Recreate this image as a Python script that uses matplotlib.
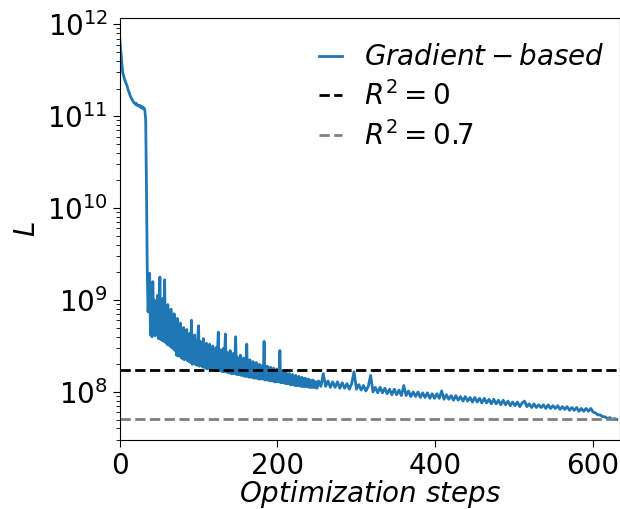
import numpy as np
import matplotlib
matplotlib.use("Agg")
import matplotlib.pyplot as plt

# log10 of the loss
# first segment: one value per step (0..36)
log_loss_start = [
    11.86, 11.75, 11.66, 11.55, 11.47, 11.44, 11.41, 11.38, 11.36, 11.34,
    11.31, 11.28, 11.26, 11.23, 11.21, 11.19, 11.18, 11.16, 11.15, 11.14,
    11.13, 11.14, 11.12, 11.12, 11.11, 11.12, 11.10, 11.11, 11.09, 11.10,
    11.08, 11.09, 11.06, 10.95, 10.20, 9.30, 8.87,
]

# noisy segment: one value per step from 38 to 250
log_loss_noisy = [
    9.29, 8.62, 8.95, 8.60, 9.20, 8.66, 9.00, 8.61, 8.90, 8.63,
    9.05, 8.58, 8.88, 9.25, 8.57, 8.92, 8.56, 9.02, 8.55, 9.22,
    8.54, 8.85, 8.52, 8.95, 8.51, 8.80, 8.50, 8.90, 8.48, 8.75,
    8.47, 8.85, 8.45, 8.72, 8.40, 8.80, 8.39, 8.68, 8.40, 8.75,
    8.37, 8.65, 8.36, 8.70, 8.35, 8.62, 8.36, 8.68, 8.34, 8.60,
    8.33, 8.64, 8.32, 8.78, 8.30, 8.58, 8.31, 8.62, 8.30, 8.55,
    8.29, 8.60, 8.72, 8.28, 8.55, 8.29, 8.52, 8.27, 8.58, 8.27,
    8.50, 8.26, 8.53, 8.25, 8.48, 8.26, 8.52, 8.25, 8.46, 8.24,
    8.50, 8.24, 8.45, 8.23, 8.48, 8.24, 8.44, 8.65, 8.23, 8.46,
    8.23, 8.42, 8.22, 8.47, 8.22, 8.40, 8.63, 8.22, 8.43, 8.21,
    8.42, 8.21, 8.45, 8.20, 8.38, 8.20, 8.42, 8.20, 8.36, 8.60,
    8.19, 8.38, 8.19, 8.35, 8.19, 8.40, 8.18, 8.34, 8.18, 8.37,
    8.17, 8.33, 8.17, 8.52, 8.17, 8.32, 8.16, 8.35, 8.16, 8.30,
    8.16, 8.33, 8.15, 8.29, 8.15, 8.32, 8.15, 8.28, 8.14, 8.30,
    8.14, 8.27, 8.14, 8.29, 8.14, 8.55, 8.13, 8.26, 8.13, 8.28,
    8.13, 8.25, 8.12, 8.27, 8.12, 8.24, 8.12, 8.26, 8.11, 8.23,
    8.11, 8.25, 8.11, 8.22, 8.11, 8.45, 8.10, 8.21, 8.10, 8.23,
    8.10, 8.20, 8.09, 8.21, 8.09, 8.19, 8.09, 8.20, 8.08, 8.18,
    8.08, 8.19, 8.08, 8.17, 8.07, 8.18, 8.07, 8.16, 8.07, 8.17,
    8.07, 8.15, 8.06, 8.16, 8.06, 8.14, 8.06, 8.15, 8.06, 8.13,
    8.06, 8.14, 8.05, 8.13, 8.05, 8.12, 8.05, 8.13, 8.05, 8.11,
    8.05, 8.11, 8.04,
]

# slow tail: every 3 steps from 252
log_loss_tail = [
    8.12, 8.06, 8.20, 8.06, 8.12, 8.05, 8.11, 8.05, 8.11, 8.04,
    8.10, 8.04, 8.09, 8.03, 8.09, 8.22, 8.03, 8.08, 8.02, 8.07,
    8.01, 8.06, 8.18, 8.00, 8.05, 7.99, 8.05, 7.99, 8.04, 7.98,
    8.03, 7.97, 8.03, 7.97, 8.02, 7.96, 8.07, 7.96, 8.01, 7.95,
    8.00, 7.95, 8.00, 7.94, 7.99, 7.94, 7.99, 7.93, 7.98, 7.93,
    7.98, 7.93, 8.01, 7.92, 7.97, 7.92, 7.96, 7.91, 7.96, 7.91,
    7.95, 7.90, 7.95, 7.90, 7.94, 7.89, 7.94, 7.89, 7.93, 7.88,
    7.93, 7.88, 7.92, 7.87, 7.92, 7.87, 7.91, 7.86, 7.91, 7.86,
    7.90, 7.85, 7.89, 7.85, 7.89, 7.84, 7.88, 7.90, 7.84, 7.87,
    7.83, 7.87, 7.83, 7.86, 7.83, 7.86, 7.82, 7.86, 7.82, 7.85,
    7.82, 7.85, 7.81, 7.84, 7.81, 7.84, 7.80, 7.83, 7.80, 7.83,
    7.79, 7.82, 7.79, 7.82, 7.79, 7.82, 7.78, 7.77, 7.75, 7.75,
    7.73, 7.73, 7.71, 7.72, 7.70, 7.71, 7.70,
]

r2_zero = 1.72e8
r2_07 = 5.1e7

steps = np.concatenate([
    np.arange(0, len(log_loss_start)),
    38 + np.arange(len(log_loss_noisy)),
    252 + 3 * np.arange(len(log_loss_tail)),
])
loss = 10 ** np.array(log_loss_start + log_loss_noisy + log_loss_tail)

plt.rcParams["mathtext.fontset"] = "dejavusans"

fig = plt.figure(figsize=(6.2, 5.09), dpi=100)
ax = fig.add_axes([0.193, 0.1356, 0.807, 0.829])

ax.plot(steps, loss, color="#1f77b4", linewidth=2, label=r"$Gradient-based$")
ax.axhline(r2_zero, color="black", linestyle="--", linewidth=2, label=r"$R^2=0$")
ax.axhline(r2_07, color="gray", linestyle="--", linewidth=2, label=r"$R^2=0.7$")

ax.set_yscale("log")
ax.set_xlim(0, 634)
ax.set_ylim(3e7, 1.17e12)
ax.set_xticks([0, 200, 400, 600])

ax.tick_params(axis="both", which="major", labelsize=20, length=5)
ax.tick_params(axis="both", which="minor", length=3)

ax.set_xlabel(r"$Optimization\ steps$", fontsize=20, labelpad=-1)
ax.set_ylabel(r"$L$", fontsize=20)

ax.legend(fontsize=20, frameon=False, loc="upper right", handlelength=0.8,
          bbox_to_anchor=(1.008, 0.986), borderaxespad=0.3, labelspacing=0.35)

fig.savefig("out.png", dpi=100)
